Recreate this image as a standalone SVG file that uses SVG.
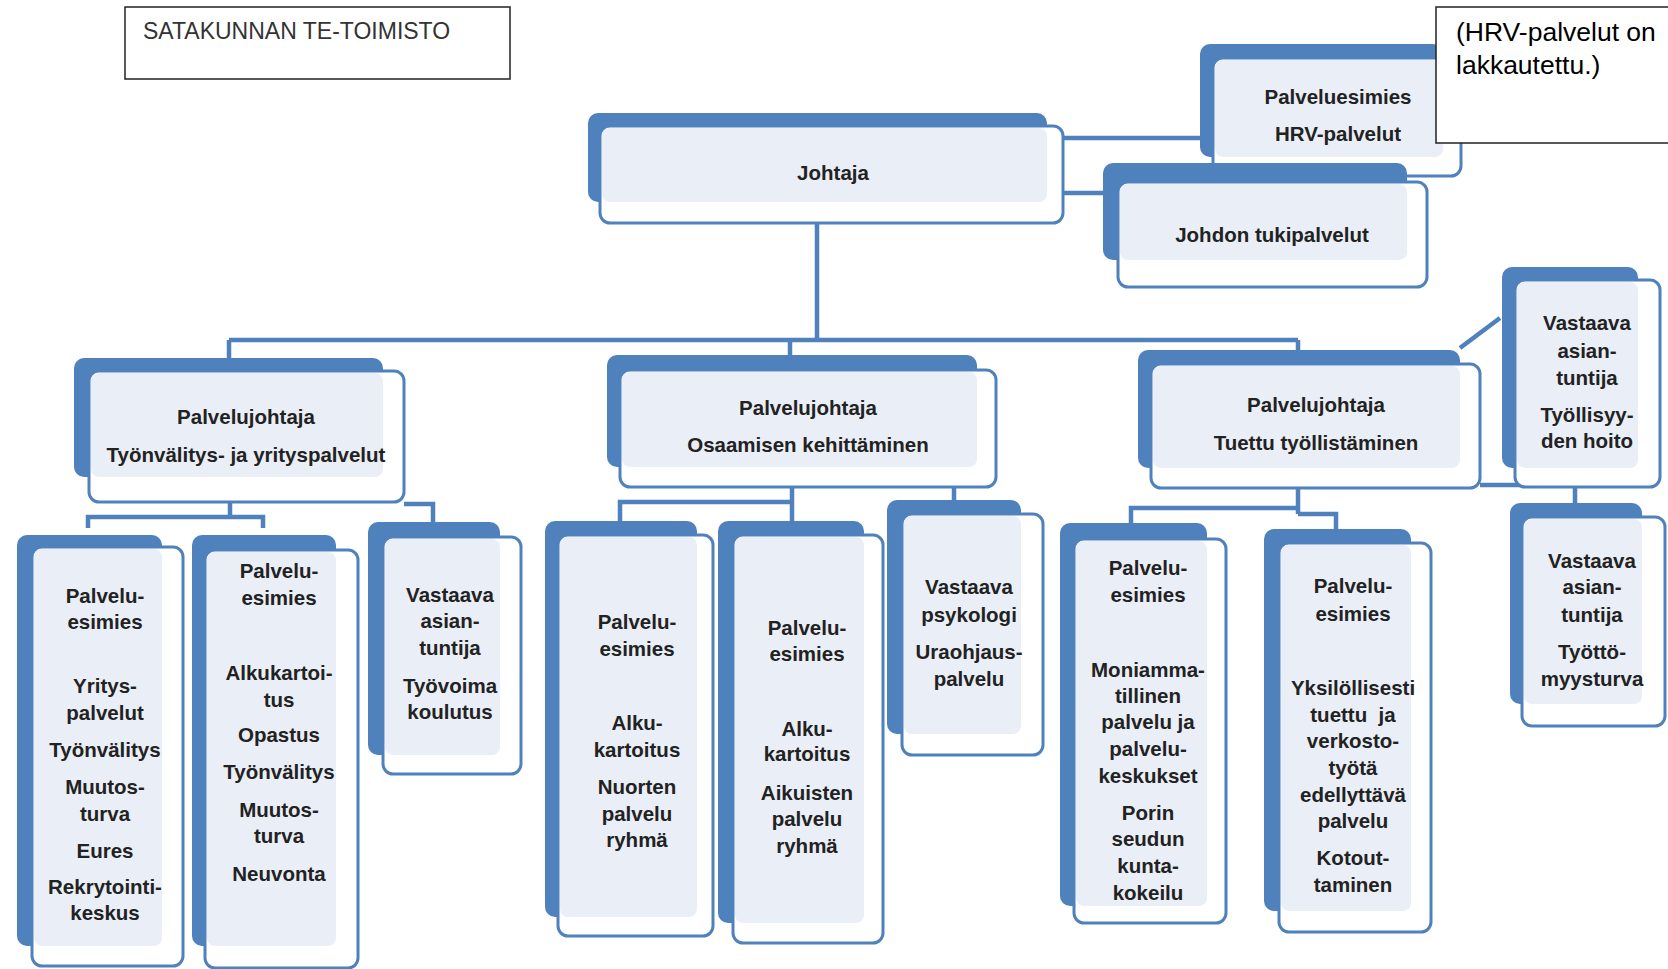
<svg xmlns="http://www.w3.org/2000/svg" width="1668" height="969" viewBox="0 0 1668 969">
<style>
.bk{fill:#4F81BD}
.fr{fill:#ffffff;stroke:#4F81BD;stroke-width:3}
.in{fill:#EAEFF7}
.t{font-family:"Liberation Sans",Arial,sans-serif;font-weight:bold;font-size:20.5px;fill:#222;text-anchor:middle}
.c{fill:none;stroke:#4F81BD;stroke-width:4.5}
.lbl{fill:#fff;stroke:#222;stroke-width:1.5}
</style>
<rect width="1668" height="969" fill="#fff"/>
<g id="title">
<rect class="lbl" x="125" y="7" width="385" height="72"/>
<text x="143" y="39" font-family="Liberation Sans,Arial,sans-serif" font-size="23" fill="#333">SATAKUNNAN TE-TOIMISTO</text>
</g>
<g id="connectors">
<path class="c" d="M1063,138H1200M1063,193H1104M817,223V340M229,340H1298M229,340V358M790,340V355M1298,340V350"/>
<path class="c" d="M1460,348L1500,318M1480,485H1575V503"/>
<path class="c" d="M230,502V517M88,528V517H263V528M404,504H433V522"/>
<path class="c" d="M792,487V521M620,521V502H792M954,487V500"/>
<path class="c" d="M1298,488V514M1131,523V508H1298M1298,514H1336V529"/>
</g>
<g id="johtaja">
<rect class="bk" x="588" y="113" width="459" height="89" rx="10"/>
<rect class="fr" x="600" y="126" width="463" height="97" rx="10"/>
<rect class="in" x="602" y="128" width="445" height="74" rx="8"/>
<text class="t" x="833" y="180">Johtaja</text>
</g>
<g id="hrv">
<rect class="bk" x="1200" y="44" width="243" height="113" rx="10"/>
<rect class="fr" x="1213" y="58" width="248" height="118" rx="10"/>
<rect class="in" x="1215" y="60" width="228" height="97" rx="8"/>
<text class="t" x="1338" y="104">Palveluesimies</text>
<text class="t" x="1338" y="141">HRV-palvelut</text>
</g>
<g id="tuki">
<rect class="bk" x="1103" y="163" width="304" height="97" rx="10"/>
<rect class="fr" x="1118" y="182" width="309" height="105" rx="10"/>
<rect class="in" x="1120" y="184" width="287" height="76" rx="8"/>
<text class="t" x="1272" y="242">Johdon tukipalvelut</text>
</g>
<g id="note">
<rect class="lbl" x="1436" y="7" width="240" height="136"/>
<text font-family="Liberation Sans,Arial,sans-serif" font-size="26.5" fill="#000"><tspan x="1456" y="41">(HRV-palvelut on</tspan><tspan x="1456" y="74">lakkautettu.)</tspan></text>
</g>
<g id="pj-tyonvalitys">
<rect class="bk" x="74" y="358" width="309" height="119" rx="10"/>
<rect class="fr" x="89" y="371" width="315" height="131" rx="10"/>
<rect class="in" x="91" y="373" width="292" height="104" rx="8"/>
<text class="t" x="246" y="424">Palvelujohtaja</text>
<text class="t" x="246" y="462">Työnvälitys- ja yrityspalvelut</text>
</g>
<g id="pj-osaaminen">
<rect class="bk" x="607" y="355" width="370" height="112" rx="10"/>
<rect class="fr" x="620" y="370" width="376" height="117" rx="10"/>
<rect class="in" x="622" y="372" width="355" height="95" rx="8"/>
<text class="t" x="808" y="415">Palvelujohtaja</text>
<text class="t" x="808" y="452">Osaamisen kehittäminen</text>
</g>
<g id="pj-tuettu">
<rect class="bk" x="1138" y="350" width="322" height="118" rx="10"/>
<rect class="fr" x="1151" y="364" width="329" height="124" rx="10"/>
<rect class="in" x="1153" y="366" width="307" height="102" rx="8"/>
<text class="t" x="1316" y="412">Palvelujohtaja</text>
<text class="t" x="1316" y="450">Tuettu työllistäminen</text>
</g>
<g id="va-tyollisyys">
<rect class="bk" x="1502" y="267" width="136" height="201" rx="10"/>
<rect class="fr" x="1515" y="280" width="145" height="207" rx="10"/>
<rect class="in" x="1517" y="282" width="121" height="186" rx="8"/>
<text class="t" x="1587" y="330">Vastaava</text>
<text class="t" x="1587" y="358">asian-</text>
<text class="t" x="1587" y="385">tuntija</text>
<text class="t" x="1587" y="422">Työllisyy-</text>
<text class="t" x="1587" y="448">den hoito</text>
</g>
<g id="va-tyottomyysturva">
<rect class="bk" x="1510" y="503" width="132" height="201" rx="10"/>
<rect class="fr" x="1522" y="517" width="143" height="209" rx="10"/>
<rect class="in" x="1524" y="519" width="118" height="185" rx="8"/>
<text class="t" x="1592" y="568">Vastaava</text>
<text class="t" x="1592" y="594">asian-</text>
<text class="t" x="1592" y="622">tuntija</text>
<text class="t" x="1592" y="659">Työttö-</text>
<text class="t" x="1592" y="686">myysturva</text>
</g>
<g id="pe-yrityspalvelut">
<rect class="bk" x="17" y="535" width="145" height="411" rx="10"/>
<rect class="fr" x="32" y="547" width="151" height="419" rx="10"/>
<rect class="in" x="34" y="549" width="128" height="397" rx="8"/>
<text class="t" x="105" y="603">Palvelu-</text>
<text class="t" x="105" y="629">esimies</text>
<text class="t" x="105" y="693">Yritys-</text>
<text class="t" x="105" y="720">palvelut</text>
<text class="t" x="105" y="757">Työnvälitys</text>
<text class="t" x="105" y="794">Muutos-</text>
<text class="t" x="105" y="821">turva</text>
<text class="t" x="105" y="858">Eures</text>
<text class="t" x="105" y="894">Rekrytointi-</text>
<text class="t" x="105" y="920">keskus</text>
</g>
<g id="pe-alkukartoitus">
<rect class="bk" x="192" y="535" width="144" height="411" rx="10"/>
<rect class="fr" x="205" y="550" width="153" height="418" rx="10"/>
<rect class="in" x="207" y="552" width="129" height="394" rx="8"/>
<text class="t" x="279" y="578">Palvelu-</text>
<text class="t" x="279" y="605">esimies</text>
<text class="t" x="279" y="680">Alkukartoi-</text>
<text class="t" x="279" y="707">tus</text>
<text class="t" x="279" y="742">Opastus</text>
<text class="t" x="279" y="779">Työnvälitys</text>
<text class="t" x="279" y="817">Muutos-</text>
<text class="t" x="279" y="843">turva</text>
<text class="t" x="279" y="881">Neuvonta</text>
</g>
<g id="va-tyovoimakoulutus">
<rect class="bk" x="368" y="522" width="132" height="233" rx="10"/>
<rect class="fr" x="383" y="537" width="138" height="237" rx="10"/>
<rect class="in" x="385" y="539" width="115" height="216" rx="8"/>
<text class="t" x="450" y="602">Vastaava</text>
<text class="t" x="450" y="628">asian-</text>
<text class="t" x="450" y="655">tuntija</text>
<text class="t" x="450" y="693">Työvoima</text>
<text class="t" x="450" y="719">koulutus</text>
</g>
<g id="pe-nuorten">
<rect class="bk" x="545" y="521" width="152" height="396" rx="10"/>
<rect class="fr" x="558" y="535" width="155" height="401" rx="10"/>
<rect class="in" x="560" y="537" width="137" height="380" rx="8"/>
<text class="t" x="637" y="629">Palvelu-</text>
<text class="t" x="637" y="656">esimies</text>
<text class="t" x="637" y="730">Alku-</text>
<text class="t" x="637" y="757">kartoitus</text>
<text class="t" x="637" y="794">Nuorten</text>
<text class="t" x="637" y="821">palvelu</text>
<text class="t" x="637" y="847">ryhmä</text>
</g>
<g id="pe-aikuisten">
<rect class="bk" x="718" y="521" width="146" height="402" rx="10"/>
<rect class="fr" x="733" y="535" width="150" height="408" rx="10"/>
<rect class="in" x="735" y="537" width="129" height="386" rx="8"/>
<text class="t" x="807" y="635">Palvelu-</text>
<text class="t" x="807" y="661">esimies</text>
<text class="t" x="807" y="736">Alku-</text>
<text class="t" x="807" y="761">kartoitus</text>
<text class="t" x="807" y="800">Aikuisten</text>
<text class="t" x="807" y="826">palvelu</text>
<text class="t" x="807" y="853">ryhmä</text>
</g>
<g id="va-psykologi">
<rect class="bk" x="887" y="500" width="134" height="234" rx="10"/>
<rect class="fr" x="902" y="514" width="141" height="241" rx="10"/>
<rect class="in" x="904" y="516" width="117" height="218" rx="8"/>
<text class="t" x="969" y="594">Vastaava</text>
<text class="t" x="969" y="622">psykologi</text>
<text class="t" x="969" y="659">Uraohjaus-</text>
<text class="t" x="969" y="686">palvelu</text>
</g>
<g id="pe-moniammatillinen">
<rect class="bk" x="1060" y="523" width="147" height="383" rx="10"/>
<rect class="fr" x="1074" y="539" width="152" height="384" rx="10"/>
<rect class="in" x="1076" y="541" width="131" height="365" rx="8"/>
<text class="t" x="1148" y="575">Palvelu-</text>
<text class="t" x="1148" y="602">esimies</text>
<text class="t" x="1148" y="677">Moniamma-</text>
<text class="t" x="1148" y="703">tillinen</text>
<text class="t" x="1148" y="729">palvelu ja</text>
<text class="t" x="1148" y="756">palvelu-</text>
<text class="t" x="1148" y="783">keskukset</text>
<text class="t" x="1148" y="820">Porin</text>
<text class="t" x="1148" y="846">seudun</text>
<text class="t" x="1148" y="873">kunta-</text>
<text class="t" x="1148" y="900">kokeilu</text>
</g>
<g id="pe-yksilollisesti">
<rect class="bk" x="1264" y="529" width="147" height="382" rx="10"/>
<rect class="fr" x="1279" y="543" width="152" height="389" rx="10"/>
<rect class="in" x="1281" y="545" width="130" height="366" rx="8"/>
<text class="t" x="1353" y="593">Palvelu-</text>
<text class="t" x="1353" y="621">esimies</text>
<text class="t" x="1353" y="695">Yksilöllisesti</text>
<text class="t" x="1353" y="722" xml:space="preserve">tuettu  ja</text>
<text class="t" x="1353" y="748">verkosto-</text>
<text class="t" x="1353" y="775">työtä</text>
<text class="t" x="1353" y="802">edellyttävä</text>
<text class="t" x="1353" y="828">palvelu</text>
<text class="t" x="1353" y="865">Kotout-</text>
<text class="t" x="1353" y="892">taminen</text>
</g>
</svg>
